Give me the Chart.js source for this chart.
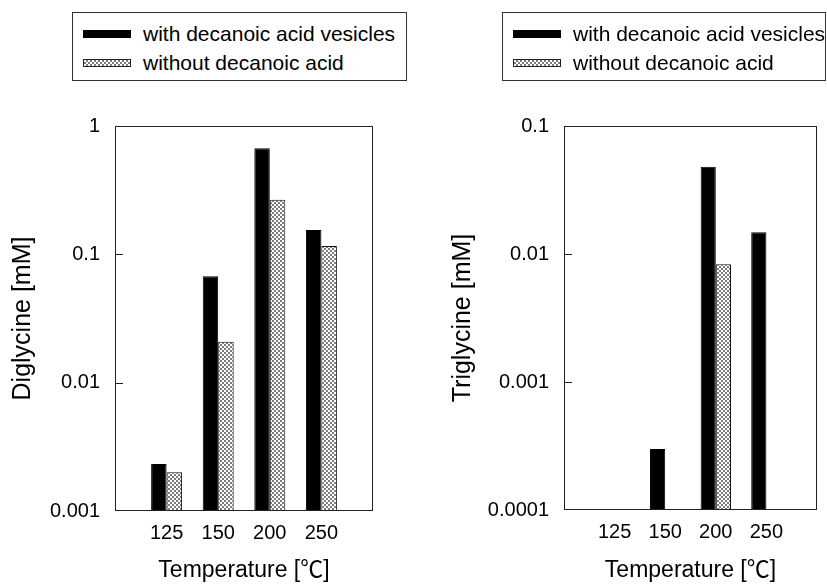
<!DOCTYPE html>
<html lang="en">
<head>
  <meta charset="UTF-8">
  <title>Diglycine and Triglycine yields</title>
  <script src="https://cdn.jsdelivr.net/npm/chart.js"></script>
  <style>
    body {
      margin: 0;
      background: #fff;
      font-family: Arial, 'Liberation Sans', sans-serif;
    }
    .wrap {
      position: relative;
      width: 827px;
      height: 585px;
      overflow: hidden;
    }
    canvas {
      position: absolute;
      top: 0;
    }
    .legend {
      position: absolute;
      top: 12px;
      height: 69px;
      border: 1px solid #333;
      background: #fff;
      box-sizing: border-box;
    }
    .legend .row {
      position: absolute;
      left: 10px;
      height: 24px;
      display: flex;
      align-items: center;
      font-size: 21px;
      color: #000;
      white-space: nowrap;
    }
    .legend .sw {
      width: 48px;
      height: 8px;
      margin-right: 12px;
      box-sizing: border-box;
    }
  </style>
</head>
<body>
  <div class="wrap">
    <canvas id="diChart" width="413" height="585" style="left:0"></canvas>
    <canvas id="triChart" width="414" height="585" style="left:413px"></canvas>
    <div class="legend" id="diLegend" style="left:72px; width:335px"></div>
    <div class="legend" id="triLegend" style="left:502px; width:324px"></div>
  </div>

  <script>
    // data
    const temperatures = ['125', '150', '200', '250'];
    const seriesNames = ['with decanoic acid vesicles', 'without decanoic acid'];

    const diWith    = [0.00232, 0.0676, 0.67, 0.155];
    const diWithout = [0.0020, 0.0208, 0.266, 0.116];
    const triWith    = [null, 0.00030, 0.048, 0.0148];
    const triWithout = [null, null, 0.0083, null];

    const diTicks = [0.001, 0.01, 0.1, 1];
    const diTickLabels = ['0.001', '0.01', '0.1', '1'];
    const triTicks = [0.0001, 0.001, 0.01, 0.1];
    const triTickLabels = ['0.0001', '0.001', '0.01', '0.1'];

    // CJK font only picks up the wide ℃ sign
    const FONT = "Arial, 'Liberation Sans', 'Noto Sans CJK JP', sans-serif";

    // empty slot before and after the four temperatures
    const labels = [''].concat(temperatures, ['']);
    const pad = arr => [null].concat(arr, [null]);

    function stipple(ctx) {
      const c = document.createElement('canvas');
      c.width = 4; c.height = 4;
      const g = c.getContext('2d');
      g.fillStyle = '#fff';
      g.fillRect(0, 0, 4, 4);
      g.fillStyle = '#7c7c7c';
      g.fillRect(0, 0, 2, 2);
      g.fillRect(2, 2, 2, 2);
      return ctx.createPattern(c, 'repeat');
    }

    // frame round the plot and short inward ticks on the y axis
    const framePlugin = {
      id: 'frame',
      afterDraw(chart) {
        const { ctx, chartArea: a, scales: { y } } = chart;
        ctx.save();
        ctx.strokeStyle = '#222';
        ctx.lineWidth = 1;
        ctx.strokeRect(a.left + 0.5, a.top + 0.5, a.right - a.left - 1, a.bottom - a.top - 1);
        ctx.beginPath();
        y.ticks.forEach(t => {
          const py = Math.round(y.getPixelForValue(t.value)) + 0.5;
          if (py > a.top + 2 && py < a.bottom - 2) {
            ctx.moveTo(a.left, py);
            ctx.lineTo(a.left + 8, py);
          }
        });
        ctx.stroke();
        ctx.restore();
      }
    };

    function makeChart(id, title, withData, withoutData, ticks, tickLabels, opts) {
      const ctx = document.getElementById(id).getContext('2d');
      return new Chart(ctx, {
        type: 'bar',
        data: {
          labels: labels,
          datasets: [{
            label: seriesNames[0],
            data: pad(withData),
            backgroundColor: '#000',
            borderColor: '#000',
            borderWidth: 1,
            categoryPercentage: 0.6,
            barPercentage: 1.0
          }, {
            label: seriesNames[1],
            data: pad(withoutData),
            backgroundColor: stipple(ctx),
            borderColor: '#111',
            borderWidth: 1,
            categoryPercentage: 0.6,
            barPercentage: 1.0
          }]
        },
        options: {
          responsive: false,
          animation: false,
          layout: { padding: { top: 126, right: opts.right, bottom: 0, left: 0 } },
          plugins: {
            legend: { display: false },
            tooltip: { enabled: false }
          },
          scales: {
            x: {
              offset: false,
              grid: { display: false, drawTicks: false },
              border: { display: false },
              ticks: {
                color: '#000',
                padding: 10,
                maxRotation: 0,
                autoSkip: false,
                font: { family: FONT, size: 20 }
              },
              title: {
                display: true,
                text: 'Temperature [℃]',
                color: '#000',
                padding: { top: 0, bottom: 1 },
                font: { family: FONT, size: 23 }
              },
              afterFit: s => { s.height = opts.xHeight; }
            },
            y: {
              type: 'logarithmic',
              min: ticks[0],
              max: ticks[ticks.length - 1],
              grid: { display: false, drawTicks: false },
              border: { display: false },
              afterBuildTicks: s => { s.ticks = ticks.map(v => ({ value: v })); },
              ticks: {
                color: '#000',
                padding: 15,
                font: { family: FONT, size: 20 },
                callback: v => tickLabels[ticks.indexOf(v)]
              },
              title: {
                display: true,
                text: title,
                color: '#000',
                padding: { top: opts.titlePad, bottom: 0 },
                font: { family: FONT, size: 25 }
              },
              afterFit: s => { s.width = opts.yWidth; }
            }
          }
        },
        plugins: [framePlugin]
      });
    }

    function htmlLegend(chart, boxId) {
      const box = document.getElementById(boxId);
      chart.data.datasets.forEach((ds, i) => {
        const row = document.createElement('div');
        row.className = 'row';
        row.style.top = (9 + i * 29) + 'px';
        const sw = document.createElement('span');
        sw.className = 'sw';
        if (i === 0) {
          sw.style.background = '#000';
        } else {
          sw.style.background = 'repeating-conic-gradient(#7c7c7c 0 25%, #fff 0 50%) 0 0 / 4px 4px';
          sw.style.border = '1px solid #222';
        }
        row.appendChild(sw);
        row.appendChild(document.createTextNode(ds.label));
        box.appendChild(row);
      });
    }

    const diChart = makeChart('diChart', 'Diglycine [mM]', diWith, diWithout, diTicks, diTickLabels,
      { right: 40, yWidth: 115, xHeight: 74, titlePad: 8 });
    const triChart = makeChart('triChart', 'Triglycine [mM]', triWith, triWithout, triTicks, triTickLabels,
      { right: 4, yWidth: 151, xHeight: 75, titlePad: 35 });

    htmlLegend(diChart, 'diLegend');
    htmlLegend(triChart, 'triLegend');
  </script>
</body>
</html>
